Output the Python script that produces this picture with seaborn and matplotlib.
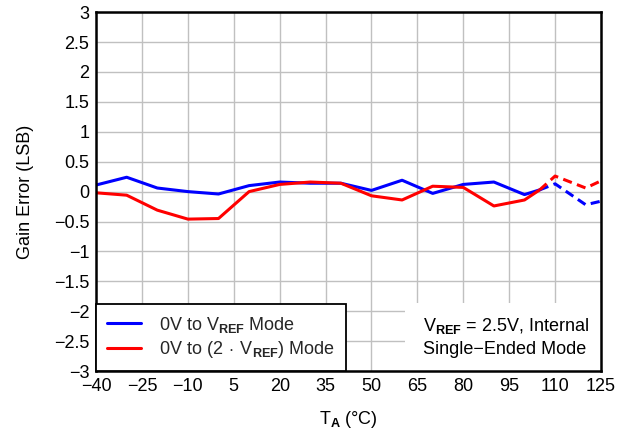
import numpy as np
import pandas as pd
import matplotlib
matplotlib.use("Agg")
import matplotlib.pyplot as plt
from matplotlib.patches import Rectangle
import seaborn as sns

# measured range (solid) and extrapolated range (dashed)
temps_solid = [-40, -30, -20, -10, 0, 10, 20, 30, 40, 50, 60, 70, 80, 90, 100, 105]
blue_solid = [0.11, 0.24, 0.06, 0.0, -0.04, 0.10, 0.16, 0.14, 0.14, 0.02, 0.19, -0.03, 0.12, 0.16, -0.05, 0.03]
red_solid = [-0.02, -0.06, -0.31, -0.46, -0.45, 0.0, 0.12, 0.16, 0.14, -0.07, -0.14, 0.09, 0.07, -0.24, -0.14, 0.03]

temps_dash = [105, 110, 120, 125]
blue_dash = [0.03, 0.13, -0.22, -0.16]
red_dash = [0.03, 0.26, 0.06, 0.18]

x_ticks = list(range(-40, 126, 15))
y_ticks = [-3, -2.5, -2, -1.5, -1, -0.5, 0, 0.5, 1, 1.5, 2, 2.5, 3]

labels = [r"0V to V$_\mathbf{REF}$ Mode", r"0V to (2$\,\cdot\,$V$_\mathbf{REF}$) Mode"]
colors = ["#0000ff", "#ff0000"]
note_lines = [r"V$_\mathbf{REF}$ = 2.5V, Internal", "Single\u2212Ended Mode"]

sns.set_theme(style="whitegrid")
plt.rcParams["font.family"] = ["Liberation Sans", "DejaVu Sans"]
plt.rcParams["mathtext.fontset"] = "custom"
plt.rcParams["mathtext.rm"] = "Liberation Sans"
plt.rcParams["mathtext.bf"] = "Liberation Sans:bold"

solid = pd.DataFrame({
    "temp": temps_solid * 2,
    "err": blue_solid + red_solid,
    "mode": [labels[0]] * len(temps_solid) + [labels[1]] * len(temps_solid),
})

fig = plt.figure(figsize=(6.28, 4.33), dpi=100)
ax = fig.add_axes([0.153, 0.143, 0.804, 0.829])

pal = dict(zip(labels, colors))
sns.lineplot(data=solid, x="temp", y="err", hue="mode", palette=pal, lw=2.2, ax=ax, legend=False)
for lab, yy in zip(labels, [blue_dash, red_dash]):
    ax.plot(temps_dash, yy, color=pal[lab], lw=2.2, dashes=(3, 1.8))

fs = 13
ax.set_xlim(-40, 125)
ax.set_ylim(-3, 3)
ax.set_xticks(x_ticks)
ax.set_yticks(y_ticks)
ax.set_yticklabels([("%g" % v).replace("-", "\u2212") for v in y_ticks])
ax.set_xticklabels([str(v).replace("-", "\u2212") for v in x_ticks])
ax.tick_params(length=0, labelsize=fs, colors="black", pad=5)
ax.grid(True, color="#c0c0c0", lw=1)
for s in ax.spines.values():
    s.set_color("black")
    s.set_linewidth(1.8)
    s.set_zorder(5)

ax.set_xlabel(r"T$_\mathbf{A}$ (°C)", fontsize=fs, color="black", labelpad=10)
ax.set_ylabel("Gain Error (LSB)", fontsize=fs, color="black", labelpad=14)

handles = [plt.Line2D([], [], color=c, lw=2.2) for c in colors]
leg = ax.legend(handles, labels, loc="lower left", fontsize=fs, frameon=True, fancybox=False,
                framealpha=1, edgecolor="black", borderaxespad=0, handlelength=1.9,
                borderpad=0.6, labelspacing=0.25, handletextpad=1.0)
leg.get_frame().set_linewidth(1.3)

# white panel behind the condition note
ax.add_patch(Rectangle((0.612, 0.0), 0.39, 0.19, transform=ax.transAxes,
                       facecolor="white", edgecolor="none", zorder=3))
ax.text(0.648, 0.125, note_lines[0], transform=ax.transAxes, ha="left", va="center",
        fontsize=fs, color="black", zorder=4)
ax.text(0.648, 0.061, note_lines[1], transform=ax.transAxes, ha="left", va="center",
        fontsize=fs, color="black", zorder=4)

fig.savefig("out.png", dpi=100)
